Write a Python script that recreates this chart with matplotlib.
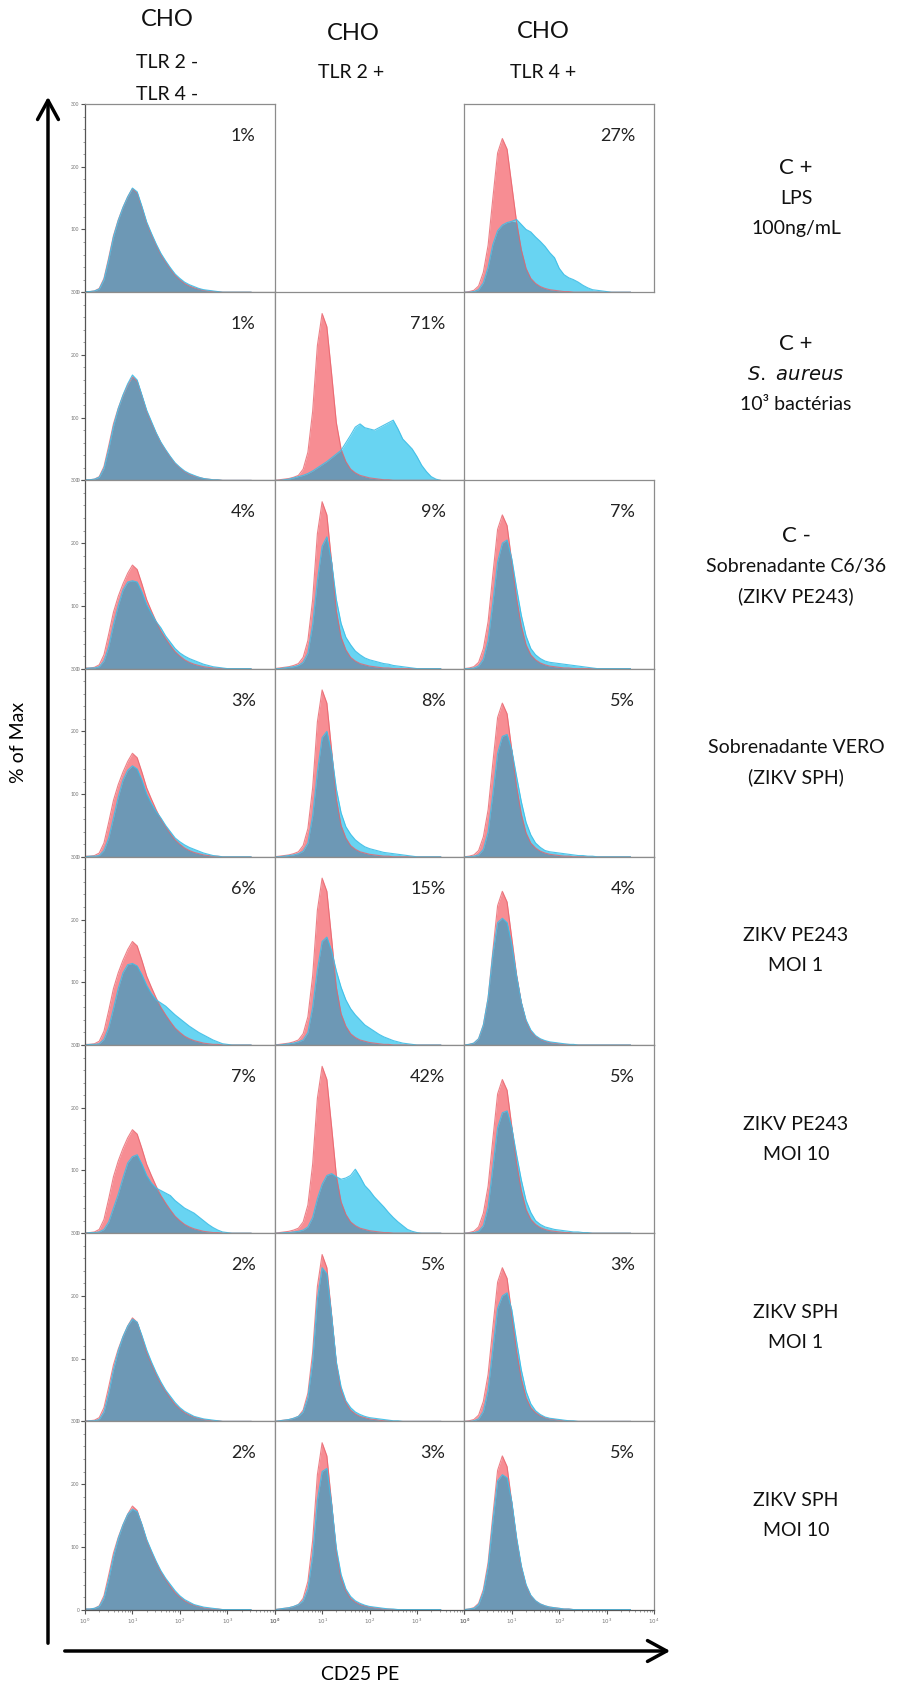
import numpy as np
import matplotlib
matplotlib.use('Agg')
import matplotlib.pyplot as plt
from matplotlib.patches import FancyArrowPatch

plt.rcParams['font.family'] = ['Lato', 'DejaVu Sans']

# ---------------- data ----------------
# histogram bins, in decades of CD25 PE fluorescence (10^0 .. 10^3.5)
BIN_DECADES = [0.0, 0.1, 0.2, 0.3, 0.4, 0.5, 0.6, 0.7, 0.8, 0.9,
               1.0, 1.1, 1.2, 1.3, 1.4, 1.5, 1.6, 1.7, 1.8, 1.9,
               2.0, 2.1, 2.2, 2.3, 2.4, 2.5, 2.6, 2.7, 2.8, 2.9,
               3.0, 3.1, 3.2, 3.3, 3.4, 3.5]

# unstimulated controls (red), % of Max
CTRL_TLR_NEG = [1, 1, 2, 6, 22, 55, 90, 115, 135, 152, 165, 158, 135, 110, 92, 75, 60, 48, 37, 27,
                20, 14, 10, 7, 5, 3, 2, 1, 1, 0, 0, 0, 0, 0, 0, 0]
CTRL_TLR2 = [0, 1, 2, 3, 5, 8, 18, 45, 110, 215, 266, 245, 170, 92, 50, 30, 18, 12, 8, 6,
             4, 3, 2, 1, 1, 0, 0, 0, 0, 0, 0, 0, 0, 0, 0, 0]
CTRL_TLR4 = [0, 1, 3, 10, 32, 75, 150, 222, 245, 228, 170, 112, 68, 38, 22, 14, 9, 6, 4, 3,
             2, 1, 1, 0, 0, 0, 0, 0, 0, 0, 0, 0, 0, 0, 0, 0]

# stimulated samples (cyan), % of Max
LPS_NEG = [1, 1, 2, 5, 20, 52, 88, 114, 135, 152, 166, 160, 137, 112, 94, 77, 62, 50, 39, 29,
           22, 16, 12, 9, 6, 4, 3, 2, 1, 0, 0, 0, 0, 0, 0, 0]
LPS_TLR4 = [0, 0, 1, 4, 15, 40, 76, 98, 107, 111, 113, 116, 108, 100, 96, 88, 81, 73, 63, 55,
            38, 28, 23, 20, 16, 11, 7, 4, 3, 2, 1, 0, 0, 0, 0, 0]
SAUR_NEG = [1, 1, 2, 5, 19, 50, 86, 114, 136, 154, 168, 160, 136, 112, 94, 76, 61, 49, 38, 28,
            21, 15, 11, 8, 5, 3, 2, 1, 1, 0, 0, 0, 0, 0, 0, 0]
SAUR_TLR2 = [0, 0, 1, 2, 4, 6, 8, 11, 15, 20, 25, 30, 36, 42, 48, 60, 72, 85, 90, 84,
             82, 80, 84, 88, 92, 96, 82, 66, 58, 50, 38, 24, 14, 6, 2, 0]
C636_NEG = [0, 1, 1, 3, 12, 35, 70, 100, 125, 138, 140, 138, 122, 102, 88, 75, 65, 52, 42, 32,
            25, 20, 16, 13, 10, 7, 5, 3, 2, 1, 0, 0, 0, 0, 0, 0]
C636_TLR2 = [0, 0, 1, 2, 3, 5, 10, 25, 70, 140, 195, 210, 170, 110, 72, 50, 38, 28, 22, 17,
             14, 12, 10, 8, 7, 5, 4, 3, 2, 1, 0, 0, 0, 0, 0, 0]
C636_TLR4 = [0, 0, 1, 4, 15, 45, 105, 170, 200, 205, 175, 128, 85, 52, 32, 22, 16, 12, 10, 9,
             8, 7, 6, 5, 4, 3, 2, 1, 0, 0, 0, 0, 0, 0, 0, 0]
VERO_NEG = [0, 1, 1, 2, 10, 30, 62, 95, 122, 138, 145, 140, 122, 100, 85, 72, 62, 50, 40, 30,
            24, 19, 15, 12, 9, 6, 4, 2, 1, 0, 0, 0, 0, 0, 0, 0]
VERO_TLR2 = [0, 0, 1, 2, 3, 5, 9, 22, 65, 135, 190, 200, 165, 108, 70, 48, 36, 27, 21, 16,
             13, 11, 9, 7, 6, 5, 4, 3, 2, 1, 0, 0, 0, 0, 0, 0]
VERO_TLR4 = [0, 0, 1, 3, 12, 40, 100, 165, 192, 195, 170, 128, 88, 55, 35, 22, 15, 10, 8, 7,
             6, 5, 4, 3, 2, 2, 1, 1, 0, 0, 0, 0, 0, 0, 0, 0]
PE1_NEG = [0, 1, 1, 2, 9, 28, 58, 90, 115, 128, 130, 126, 112, 95, 82, 72, 67, 62, 55, 48,
           42, 36, 30, 25, 20, 16, 12, 8, 5, 2, 1, 0, 0, 0, 0, 0]
PE1_TLR2 = [0, 0, 1, 2, 3, 5, 8, 20, 60, 120, 165, 172, 150, 118, 92, 72, 58, 48, 40, 32,
            27, 22, 17, 13, 10, 7, 5, 3, 2, 1, 0, 0, 0, 0, 0, 0]
PE1_TLR4 = [0, 1, 3, 10, 32, 75, 145, 195, 202, 195, 160, 110, 68, 40, 24, 15, 10, 7, 5, 4,
            3, 2, 1, 1, 0, 0, 0, 0, 0, 0, 0, 0, 0, 0, 0, 0]
PE10_NEG = [0, 1, 1, 2, 6, 18, 40, 62, 88, 112, 122, 125, 110, 92, 80, 72, 68, 64, 60, 52,
            46, 40, 36, 32, 26, 20, 14, 9, 5, 2, 1, 0, 0, 0, 0, 0]
PE10_TLR2 = [0, 0, 1, 1, 2, 3, 5, 10, 25, 55, 78, 92, 95, 90, 86, 88, 92, 102, 90, 76,
             68, 58, 50, 42, 33, 25, 18, 12, 6, 3, 1, 0, 0, 0, 0, 0]
PE10_TLR4 = [0, 0, 1, 3, 12, 42, 105, 168, 192, 195, 168, 125, 85, 52, 33, 20, 14, 10, 8, 6,
             5, 4, 3, 2, 2, 1, 1, 0, 0, 0, 0, 0, 0, 0, 0, 0]
SPH1_NEG = [0, 1, 1, 3, 15, 45, 82, 112, 135, 152, 163, 158, 137, 114, 95, 78, 63, 50, 40, 30,
            22, 16, 12, 8, 6, 4, 3, 2, 1, 0, 0, 0, 0, 0, 0, 0]
SPH1_TLR2 = [0, 1, 2, 3, 5, 8, 15, 38, 95, 195, 245, 235, 168, 95, 55, 33, 22, 15, 11, 8,
             6, 5, 4, 3, 2, 1, 1, 0, 0, 0, 0, 0, 0, 0, 0, 0]
SPH1_TLR4 = [0, 0, 1, 4, 16, 50, 115, 180, 200, 205, 178, 128, 82, 48, 28, 17, 11, 7, 5, 4,
             3, 2, 1, 1, 0, 0, 0, 0, 0, 0, 0, 0, 0, 0, 0, 0]
SPH10_NEG = [1, 1, 2, 5, 18, 48, 84, 113, 135, 152, 160, 156, 136, 112, 94, 77, 62, 50, 40, 30,
             22, 16, 12, 8, 6, 4, 3, 2, 1, 0, 0, 0, 0, 0, 0, 0]
SPH10_TLR2 = [0, 1, 2, 3, 5, 8, 14, 33, 85, 175, 220, 225, 168, 98, 56, 33, 21, 14, 10, 7,
              5, 4, 3, 2, 1, 1, 0, 0, 0, 0, 0, 0, 0, 0, 0, 0]
SPH10_TLR4 = [0, 1, 2, 8, 28, 68, 140, 205, 215, 210, 172, 115, 70, 40, 23, 14, 9, 6, 4, 3,
              2, 1, 1, 0, 0, 0, 0, 0, 0, 0, 0, 0, 0, 0, 0, 0]

CONTROLS = [CTRL_TLR_NEG, CTRL_TLR2, CTRL_TLR4]
SAMPLES = [
    [LPS_NEG, None, LPS_TLR4],
    [SAUR_NEG, SAUR_TLR2, None],
    [C636_NEG, C636_TLR2, C636_TLR4],
    [VERO_NEG, VERO_TLR2, VERO_TLR4],
    [PE1_NEG, PE1_TLR2, PE1_TLR4],
    [PE10_NEG, PE10_TLR2, PE10_TLR4],
    [SPH1_NEG, SPH1_TLR2, SPH1_TLR4],
    [SPH10_NEG, SPH10_TLR2, SPH10_TLR4],
]
PERCENTS = [
    ["1%", None, "27%"],
    ["1%", "71%", None],
    ["4%", "9%", "7%"],
    ["3%", "8%", "5%"],
    ["6%", "15%", "4%"],
    ["7%", "42%", "5%"],
    ["2%", "5%", "3%"],
    ["2%", "3%", "5%"],
]
COLUMN_HEADERS = [["CHO", "TLR 2 -", "TLR 4 -"], ["CHO", "TLR 2 +"], ["CHO", "TLR 4 +"]]
ROW_LABELS = [
    ["C +", "LPS", "100ng/mL"],
    ["C +", "$\\it{S.\\ aureus}$", "10\u00b3 bactérias"],
    ["C -", "Sobrenadante C6/36", "(ZIKV PE243)"],
    ["Sobrenadante VERO", "(ZIKV SPH)"],
    ["ZIKV PE243", "MOI 1"],
    ["ZIKV PE243", "MOI 10"],
    ["ZIKV SPH", "MOI 1"],
    ["ZIKV SPH", "MOI 10"],
]
Y_TICKS = [0, 100, 200, 300]
X_TICK_LABELS = ["$10^0$", "$10^1$", "$10^2$", "$10^3$", "$10^4$"]

# ---------------- layout ----------------
W, H = 912, 1686
fig = plt.figure(figsize=(W / 100, H / 100), dpi=100)

def fx(px):
    return px / W

def fy(py):
    return 1 - py / H

LEFT0, COLW = 85, 189.7
TOP0, ROWH = 104, 188.2

RED_FILL = '#F78D93'
CYAN_FILL = '#68D4F2'
OVER_FILL = '#6D98B5'
RED_EDGE = '#E8626B'
CYAN_EDGE = '#3DBDE6'
SPINE = '#8c8c8c'

x = np.array(BIN_DECADES)
minor_x = [k + np.log10(m) for k in range(4) for m in range(2, 10)]

for r in range(8):
    for c in range(3):
        sample = SAMPLES[r][c]
        left = LEFT0 + c * COLW
        top = TOP0 + r * ROWH
        ax = fig.add_axes([fx(left), fy(top + ROWH), fx(COLW), ROWH / H])
        ax.set_xlim(0, 4)
        ax.set_ylim(0, 300)
        if sample is None:
            ax.axis('off')
            continue
        red = np.array(CONTROLS[c], dtype=float)
        cyan = np.array(sample, dtype=float)
        ax.fill_between(x, 0, red, color=RED_FILL, lw=0)
        ax.fill_between(x, 0, cyan, color=CYAN_FILL, lw=0)
        ax.fill_between(x, 0, np.minimum(red, cyan), color=OVER_FILL, lw=0)
        ax.plot(x, red, color=RED_EDGE, lw=0.8, alpha=0.8)
        ax.plot(x, cyan, color=CYAN_EDGE, lw=0.8, alpha=0.9)
        for sp in ax.spines.values():
            sp.set_color(SPINE)
            sp.set_linewidth(0.9)
        ax.text(0.9, 0.83, PERCENTS[r][c], transform=ax.transAxes,
                ha='right', va='center', fontsize=13, color='#222222')
        # y axis ticks only on first column
        if c == 0:
            ax.set_yticks(Y_TICKS)
            ax.set_yticklabels([str(v) for v in Y_TICKS], fontsize=3.5, color='#777777')
            ax.set_yticks(np.arange(0, 301, 20), minor=True)
            ax.tick_params(axis='y', which='major', length=3, width=0.8, pad=1, color='#555555')
            ax.tick_params(axis='y', which='minor', length=1.5, width=0.5, color='#777777')
            ax.spines['left'].set_color('#555555')
        else:
            ax.set_yticks([])
        if r == 7:
            ax.set_xticks([0, 1, 2, 3, 4])
            ax.set_xticklabels(X_TICK_LABELS, fontsize=4, color='#777777')
            ax.set_xticks(minor_x, minor=True)
            ax.tick_params(axis='x', which='major', length=3, width=0.8, pad=2, color='#555555')
            ax.tick_params(axis='x', which='minor', length=1.5, width=0.5, color='#777777')
            ax.spines['bottom'].set_color('#555555')
        else:
            ax.set_xticks([])

# column headers
HEADER_POS = [[(167, 19), (167, 62), (167, 94)], [(353, 34), (351, 73)], [(543, 32), (543, 73)]]
for lines, poss in zip(COLUMN_HEADERS, HEADER_POS):
    for t, (px, py) in zip(lines, poss):
        fig.text(fx(px), fy(py), t, fontsize=17 if t == "CHO" else 14,
                 ha='center', va='center', color='#111111')

# row labels
LINE_GAP = 30
for r, lines in enumerate(ROW_LABELS):
    center = TOP0 + (r + 0.5) * ROWH
    if r == 1:
        center -= 12
    if r == 2:
        center -= 8
    n = len(lines)
    for i, t in enumerate(lines):
        yy = center + (i - (n - 1) / 2) * LINE_GAP
        fs = 16 if t in ("C +", "C -") else 14
        fig.text(fx(796), fy(yy), t, fontsize=fs, ha='center', va='center', color='#111111')

# axis arrows
arrow_kw = dict(arrowstyle='->,head_length=0.55,head_width=0.3', mutation_scale=25,
                color='black', lw=2.5, transform=fig.transFigure)
fig.add_artist(FancyArrowPatch((fx(48), fy(1646)), (fx(48), fy(94)), **arrow_kw))
fig.add_artist(FancyArrowPatch((fx(62), fy(1651)), (fx(673), fy(1651)), **arrow_kw))

fig.text(fx(19), fy(742), "% of Max", rotation=90, fontsize=14, ha='center', va='center')
fig.text(fx(360), fy(1675), "CD25 PE", fontsize=14, ha='center', va='center')

fig.savefig('out.png', dpi=100)
